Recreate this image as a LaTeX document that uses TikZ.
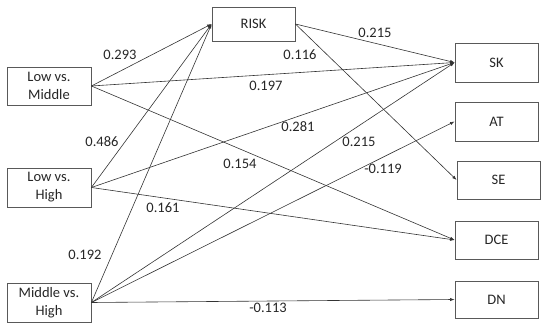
\documentclass[tikz,border=0pt]{standalone}
\usepackage{fontspec}
\setmainfont{Carlito}
\usetikzlibrary{arrows.meta}
\begin{document}
\begin{tikzpicture}[x=1pt,y=-1pt,
  box/.style={draw=black!65,line width=0.8pt,align=center,inner sep=0pt,
    font=\fontsize{14.5}{18}\selectfont,text=black!85},
  lab/.style={font=\fontsize{14.5}{18}\selectfont,text=black!85,inner sep=0pt},
  conn/.style={draw=black!80,line width=0.6pt,-{Latex[length=4.5pt,width=3.2pt]}}]
\useasboundingbox (0,0) rectangle (550,326);
\node[box,minimum width=84pt,minimum height=38pt] (lvm) at (49,86) {Low vs.\\Middle};
\node[box,minimum width=84pt,minimum height=39pt] (lvh) at (49,187.5) {Low vs.\\High};
\node[box,minimum width=84pt,minimum height=39pt] (mvh) at (49,302.5) {Middle vs.\\High};
\node[box,minimum width=83pt,minimum height=34pt] (risk) at (253.5,24) {RISK};
\node[box,minimum width=83pt,minimum height=39pt] (sk) at (496.5,62.5) {SK};
\node[box,minimum width=83pt,minimum height=39pt] (at) at (496.5,121.5) {AT};
\node[box,minimum width=83pt,minimum height=38pt] (se) at (498.5,180) {SE};
\node[box,minimum width=83pt,minimum height=38pt] (dce) at (496.5,240) {DCE};
\node[box,minimum width=83pt,minimum height=37pt] (dn) at (496.5,299.5) {DN};
% connectors
\draw[conn] (lvm.east) -- (risk.west);
\draw[conn] (lvh.east) -- (risk.west);
\draw[conn] (mvh.east) -- (risk.west);
\draw[conn] (risk.east) -- (sk.west);
\draw[conn] (risk.east) -- (se.west);
\draw[conn] (lvm.east) -- (sk.west);
\draw[conn] (lvh.east) -- (sk.west);
\draw[conn] (mvh.east) -- (sk.west);
\draw[conn] (mvh.east) -- (at.west);
\draw[conn] (lvm.east) -- (dce.west);
\draw[conn] (lvh.east) -- (dce.west);
\draw[conn] (mvh.east) -- (dn.west);
% labels
\node[lab] (l1) at (120,55) {0.293};
\node[lab] (l2) at (266,86) {0.197};
\node[lab] (l3) at (300,55) {0.116};
\node[lab] (l4) at (375,33) {0.215};
\node[lab] (l5) at (102,142) {0.486};
\node[lab] (l6) at (298,127) {0.281};
\node[lab] (l7) at (240,164) {0.154};
\node[lab] (l8) at (359,142) {0.215};
\node[lab] (l9) at (383,169) {-0.119};
\node[lab] (l10) at (163,208) {0.161};
\node[lab] (l11) at (85,255) {0.192};
\node[lab] (l12) at (268,308) {-0.113};
\end{tikzpicture}
\end{document}
